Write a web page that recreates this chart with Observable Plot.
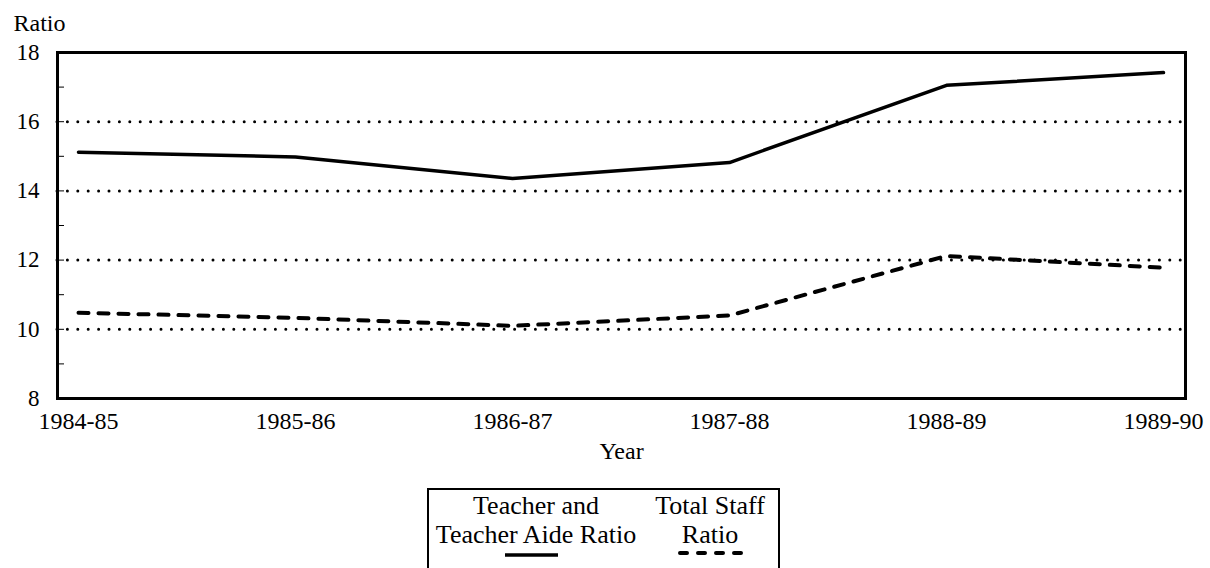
<!DOCTYPE html>
<html>
<head>
<meta charset="utf-8">
<script src="https://cdn.jsdelivr.net/npm/d3@7"></script>
<script src="https://cdn.jsdelivr.net/npm/@observablehq/plot@0.6"></script>
<style>
  html, body { margin: 0; padding: 0; background: #fff; overflow: hidden; }
  body { width: 1210px; height: 568px; position: relative; font-family: "Liberation Serif", "DejaVu Serif", serif; }
  #chart { position: absolute; left: 0; top: 0; }
  #legend { position: absolute; left: 427px; top: 488px; width: 353px; height: 120px; border: 2px solid #000; box-sizing: border-box; }
  #legend .t { position: absolute; font-size: 26px; line-height: 30px; color: #000; white-space: nowrap; transform: translateX(-50%); }
  #legend svg { position: absolute; }
</style>
</head>
<body>
<div id="chart"></div>
<div id="legend"></div>
<script>
const years = ["1984-85", "1985-86", "1986-87", "1987-88", "1988-89", "1989-90"];
const teacherAideRatio = [15.12, 14.98, 14.36, 14.82, 17.05, 17.42];
const totalStaffRatio = [10.48, 10.33, 10.10, 10.40, 12.12, 11.78];
const gridValues = [10, 12, 14, 16];
const yTickLabels = [8, 10, 12, 14, 16, 18];
const yMinorTicks = [8, 9, 10, 11, 12, 13, 14, 15, 16, 17, 18];
const seriesNames = ["Teacher and Teacher Aide Ratio", "Total Staff Ratio"];

const rows = [];
years.forEach((y, i) => {
  rows.push({year: y, value: teacherAideRatio[i], series: seriesNames[0]});
  rows.push({year: y, value: totalStaffRatio[i], series: seriesNames[1]});
});

const chart = Plot.plot({
  width: 1210,
  height: 480,
  marginTop: 52,
  marginBottom: 82,
  marginLeft: 57,
  marginRight: 25,
  style: {fontFamily: "Liberation Serif, serif", fontSize: "24px", color: "#000", background: "#fff"},
  x: {type: "point", domain: years, padding: 0, insetLeft: 21, insetRight: 22},
  y: {domain: [8, 18]},
  marks: [
    Plot.ruleY(gridValues, {stroke: "#000", strokeWidth: 3, strokeDasharray: "0,10.4", strokeLinecap: "round"}),
    Plot.axisY({ticks: yMinorTicks, tickSize: -7, tickWidth: 2.5, text: null, label: null}),
    Plot.axisY({ticks: yTickLabels, tickSize: 0, tickPadding: 18, label: null, fontSize: 23}),
    Plot.axisX({tickSize: 0, tickPadding: 13, label: "Year", labelAnchor: "center", labelOffset: 60, fontSize: 24}),
    Plot.frame({stroke: "#000", strokeWidth: 3}),
    Plot.line(rows.filter(d => d.series === seriesNames[0]), {x: "year", y: "value", stroke: "#000", strokeWidth: 3.5}),
    Plot.line(rows.filter(d => d.series === seriesNames[1]), {x: "year", y: "value", stroke: "#000", strokeWidth: 4, strokeDasharray: "10,10"}),
    Plot.text(["Ratio"], {frameAnchor: "top-left", dx: -44, dy: -29, lineAnchor: "middle", textAnchor: "start", fontSize: 24})
  ]
});
document.getElementById("chart").appendChild(chart);

// Legend
const legend = document.getElementById("legend");
function addText(txt, cx, top) {
  const d = document.createElement("div");
  d.className = "t";
  d.textContent = txt;
  d.style.left = cx + "px";
  d.style.top = top + "px";
  legend.appendChild(d);
}
addText("Teacher and", 107, 1);
addText("Teacher Aide Ratio", 107, 30);
addText("Total Staff", 281, 1);
addText("Ratio", 281, 30);
function addLine(x, y, w, dash) {
  const s = d3.create("svg").attr("width", w + 8).attr("height", 10)
    .style("left", (x - 4) + "px").style("top", (y - 5) + "px");
  s.append("line").attr("x1", dash ? 6 : 4).attr("x2", w + 4).attr("y1", 5).attr("y2", 5)
    .attr("stroke", "#000").attr("stroke-width", dash ? 4 : 3.5)
    .attr("stroke-dasharray", dash ? "7,11" : null)
    .attr("stroke-linecap", dash ? "round" : "butt");
  legend.appendChild(s.node());
}
addLine(76, 65, 53, false);
addLine(249, 63, 65, true);
</script>
</body>
</html>
